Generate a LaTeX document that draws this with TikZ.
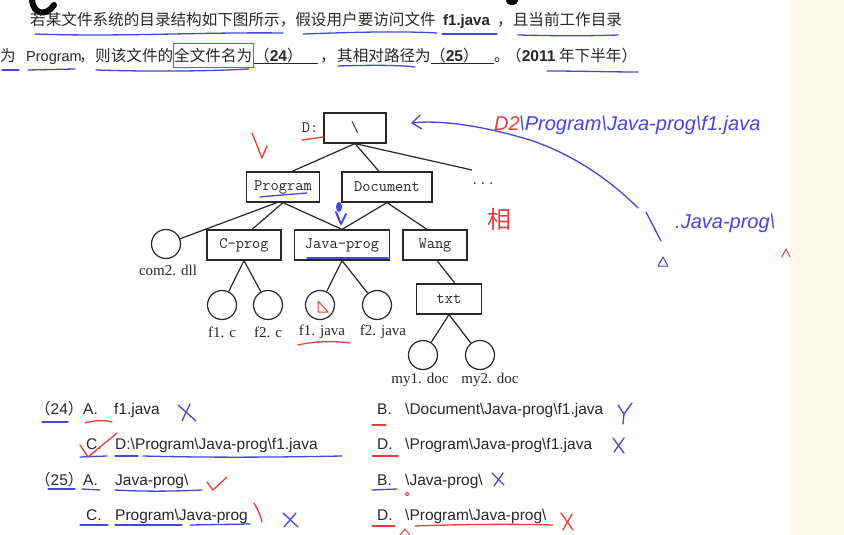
\documentclass[tikz,border=0pt]{standalone}
\usepackage{fontspec}
\setmainfont{Liberation Sans}
\newfontfamily\cjk{Noto Sans CJK SC}
\newfontfamily\serifleaf{Liberation Serif}
\usetikzlibrary{arrows.meta}
\definecolor{ink}{RGB}{40,40,40}
\definecolor{penblue}{RGB}{70,70,215}
\definecolor{penred}{RGB}{232,60,60}
\definecolor{cream}{RGB}{255,249,232}
\tikzset{
  box/.style={draw=ink, line width=1.2pt, inner sep=0pt, minimum height=30pt, text=ink,
              font=\ttfamily\fontsize{16}{16}\selectfont},
  leaf/.style={draw=ink, line width=1.2pt, circle, minimum size=29pt, inner sep=0pt},
  edge/.style={draw=ink, line width=1.2pt},
  leaflabel/.style={inner sep=0pt, text=ink, font=\serifleaf\fontsize{15}{15}\selectfont},
  q/.style={anchor=base west, inner sep=0pt, text=ink, font=\cjk\fontsize{15.6}{15.6}\selectfont},
  opt/.style={anchor=base west, inner sep=0pt, text=ink, font=\fontsize{15.5}{15.5}\selectfont},
  bl/.style={draw=penblue, line width=1.3pt, line cap=round, line join=round},
  rd/.style={draw=penred, line width=1.3pt, line cap=round, line join=round},
  hand/.style={anchor=base west, inner sep=0pt, font=\itshape\fontsize{20}{20}\selectfont},
}
\begin{document}
\begin{tikzpicture}[x=1pt,y=-1pt]
\useasboundingbox (0,0) rectangle (844,535);
\fill[white] (0,0) rectangle (844,535);
\fill[cream] (790,0) rectangle (844,535);

% black scribbles at the top
\draw[black, line width=6pt, line cap=round] (32,0) .. controls (33,14) and (46,17) .. (54,5);
\fill[black] (512,1) ellipse (6pt and 4pt);

% ---------------- question text ----------------
\node[q] (l1a) at (30,26) {若某文件系统的目录结构如下图所示，假设用户要访问文件};
\node[q, font=\bfseries\fontsize{15}{15}\selectfont] (l1b) at (443,26) {f1.java};
\node[q] (l1c) at (497,26) {，且当前工作目录};

\node[q] (l2a) at (0,62) {为};
\node[q, font=\fontsize{14.5}{14.5}\selectfont] (l2b) at (26,62) {Program};
\node[q] (l2c) at (79,62) {，};
\node[q] (l2d) at (95,62) {则该文件的};
\node[q] (l2e) at (174,62) {全文件名为};
\node[q] (l2f) at (254,62) {（\textbf{\rmfamily 24}）};
\node[q] (l2g) at (320,62) {，};
\node[q] (l2h) at (337,62) {其相对路径为};
\node[q] (l2i) at (430,62) {（\textbf{\rmfamily 25}）};
\node[q] (l2j) at (494,62) {。};
\node[q] (l2k) at (506,62) {（{\rmfamily\bfseries 2011} 年下半年）};
\draw[ink, line width=1pt] (l2e.base east) ++(2,2) -- ++(64,0);
\draw[ink, line width=1pt] (l2h.base east) ++(0,2) -- ++(63,0);
\draw[penred, line width=0.8pt] (173,43) rectangle (253,67);

% underlines of the question
\draw[bl] (35,34) .. controls (120,37) and (200,32) .. (283,33);
\draw[bl] (303,34) .. controls (360,32) and (400,31) .. (437,33);
\draw[bl] (442,34) -- (497,34);
\draw[bl] (518,35) .. controls (560,36) and (590,36) .. (618,35);
\draw[bl] (2,70) -- (19,70);
\draw[bl] (28,70) -- (75,69);
\draw[bl] (96,70) .. controls (160,72) and (210,71) .. (249,69);
\draw[bl] (338,66) .. controls (370,65) and (400,65) .. (415,67);
\draw[bl] (547,71) .. controls (580,71) and (610,72) .. (638,72);

% ---------------- tree ----------------
\node[box, minimum width=62pt] (root) at (355,128) {\textbackslash};
\node[inner sep=0pt, text=ink, font=\ttfamily\fontsize{16}{16}\selectfont] (dlab) at (310,128) {D:};
\node[box, minimum width=73pt] (prog) at (283,187) {Program};
\node[box, minimum width=90pt] (doc) at (387,187) {Document};
\node[inner sep=0pt, text=ink, font=\ttfamily\fontsize{16}{16}\selectfont] (dots) at (483,184) {...};
\coordinate (dotsend) at (472,170);

\node[leaf] (com2) at (166,244) {};
\node[leaflabel] (com2l) at (168,270) {com2. dll};
\node[box, minimum width=74pt, minimum height=30pt] (cprog) at (244,245) {C-prog};
\node[box, minimum width=95pt, minimum height=30pt] (javap) at (342,245) {Java-prog};
\node[box, minimum width=64pt, minimum height=30pt] (wang) at (435,245) {Wang};

\node[leaf] (f1c) at (222,305) {};
\node[leaf] (f2c) at (268,305) {};
\node[leaf] (f1j) at (320,305) {};
\node[leaf] (f2j) at (377,305) {};
\node[leaflabel] (f1cl) at (222,332) {f1. c};
\node[leaflabel] (f2cl) at (268,332) {f2. c};
\node[leaflabel] (f1jl) at (322,332) {f1. java};
\node[leaflabel] (f2jl) at (383,332) {f2. java};
\node[box, minimum width=65pt, minimum height=30pt] (txt) at (449,299) {txt};
\node[leaf] (my1) at (423,355) {};
\node[leaf] (my2) at (480,355) {};
\node[leaflabel] (my1l) at (420,380) {my1. doc};
\node[leaflabel] (my2l) at (490,380) {my2. doc};

\draw[edge] (root.south) -- ([xshift=9pt]prog.north);
\draw[edge] (root.south) -- ([xshift=-8pt]doc.north);
\draw[edge] (root.south) -- (dotsend);
\draw[edge] ([xshift=-6pt]prog.south) -- (com2);
\draw[edge] (prog.south) -- ([xshift=8pt]cprog.north);
\draw[edge] (prog.south) -- (javap.north);
\draw[edge] (doc.south) -- (javap.north);
\draw[edge] (doc.south) -- ([xshift=-8pt]wang.north);
\draw[edge] (cprog.south) -- (f1c);
\draw[edge] (cprog.south) -- (f2c);
\draw[edge] (javap.south) -- (f1j);
\draw[edge] (javap.south) -- (f2j);
\draw[edge] ([xshift=2pt]wang.south) -- ([xshift=6pt]txt.north);
\draw[edge] (txt.south) -- (my1);
\draw[edge] (txt.south) -- (my2);

% annotations on the tree
\draw[rd] (302,140) -- (323,137);
\draw[rd] (252,133) -- (262,158) -- (267,146);
\draw[bl] (260,197) .. controls (280,195) and (295,194) .. (307,193);
\draw[bl] (307,258) -- (388,258);
\fill[penblue] (339,207) ellipse (3pt and 5pt);
\draw[bl, line width=2pt] (336,212) -- (341,224) -- (346,214);
\draw[rd] (298,345) .. controls (315,341) and (335,341) .. (350,343);
\draw[rd, line width=1pt] (318,301) -- (318,312) -- (328,312) -- cycle;

% blue arrow and handwriting on the right
\coordinate (arrS) at (638,208);
\coordinate (arrE) at (411,123);
\draw[bl, -{Straight Barb[length=9pt,width=14pt]}] (arrS) .. controls (600,170) and (560,150) .. (530,140) .. controls (480,125) and (440,120) .. (arrE);
\node[hand, text=penred] (hd1) at (494,130) {D2};
\node[hand, text=penblue] (hd2) at (519,130) {\textbackslash Program\textbackslash Java-prog\textbackslash f1.java};
\draw[bl] (646,212) -- (661,241);
\node[hand, text=penblue] (hd3) at (675,228) {.Java-prog\textbackslash};
\draw[bl, line width=1pt] (658,266) -- (663,257) -- (668,266) -- cycle;
\draw[rd, line width=1pt] (782,257) -- (786,249) -- (790,257);
\node[inner sep=0pt, text=penred, font=\cjk\fontsize{24}{24}\selectfont] (xiang) at (499,219) {相};

% ---------------- options ----------------
\node[opt] (n24) at (35,414) {{\cjk（}24{\cjk）}};
\node[opt] (a24) at (83,414) {A.};
\node[opt] (a24t) at (114,414) {f1.java};
\node[opt] (b24) at (377,414) {B.};
\node[opt] (b24t) at (405,414) {\textbackslash Document\textbackslash Java-prog\textbackslash f1.java};
\node[opt] (c24) at (86,449) {C.};
\node[opt] (c24t) at (115,449) {D:\textbackslash Program\textbackslash Java-prog\textbackslash f1.java};
\node[opt] (d24) at (377,449) {D.};
\node[opt] (d24t) at (405,449) {\textbackslash Program\textbackslash Java-prog\textbackslash f1.java};
\node[opt] (n25) at (35,485) {{\cjk（}25{\cjk）}};
\node[opt] (a25) at (83,485) {A.};
\node[opt] (a25t) at (115,485) {Java-prog\textbackslash};
\node[opt] (b25) at (377,485) {B.};
\node[opt] (b25t) at (405,485) {\textbackslash Java-prog\textbackslash};
\node[opt] (c25) at (86,520) {C.};
\node[opt] (c25t) at (115,520) {Program\textbackslash Java-prog};
\node[opt] (d25) at (377,520) {D.};
\node[opt] (d25t) at (405,520) {\textbackslash Program\textbackslash Java-prog\textbackslash};

% option annotations
\draw[bl] (42,422) -- (68,422);
\draw[rd] (85,423) .. controls (95,420) and (105,420) .. (112,422);
\draw[bl] (178,405) -- (196,421);  \draw[bl] (190,404) -- (182,421);
\draw[rd] (372,425) -- (386,425);
\draw[bl] (618,405) -- (624,414) -- (632,403); \draw[bl] (624,414) -- (623,424);
\draw[bl] (80,457) -- (107,456);
\draw[bl] (115,456) -- (138,456);
\draw[bl] (143,456) .. controls (220,458) and (290,457) .. (342,456);
\draw[rd] (80,445) -- (88,457) -- (117,433);
\draw[rd] (372,456) -- (398,456);
\draw[bl] (613,438) -- (624,453); \draw[bl] (624,438) -- (614,452);
\draw[bl] (48,489) -- (75,489);
\draw[bl] (82,489) -- (100,490);
\draw[bl] (115,490) .. controls (150,492) and (180,491) .. (202,490);
\draw[rd] (207,482) -- (213,490) -- (227,477);
\draw[bl] (372,490) -- (397,489);
\draw[rd, line width=1pt] (407,494) circle (1.8pt);
\draw[bl] (492,473) -- (504,485); \draw[bl] (503,473) -- (494,486);
\draw[bl] (80,525) -- (108,525);
\draw[bl] (115,525) -- (182,525);
\draw[bl] (190,525) -- (250,524);
\draw[rd] (254,503) .. controls (258,510) and (261,516) .. (262,522);
\draw[bl] (283,513) -- (298,527); \draw[bl] (296,513) -- (284,527);
\draw[rd] (372,526) -- (395,526);
\draw[rd] (415,526) .. controls (470,524) and (520,524) .. (553,525);
\draw[rd] (561,513) -- (573,530); \draw[rd] (572,514) -- (563,530);
\draw[rd, line width=1pt] (400,535) -- (405,529) -- (410,535);
\end{tikzpicture}
\end{document}
